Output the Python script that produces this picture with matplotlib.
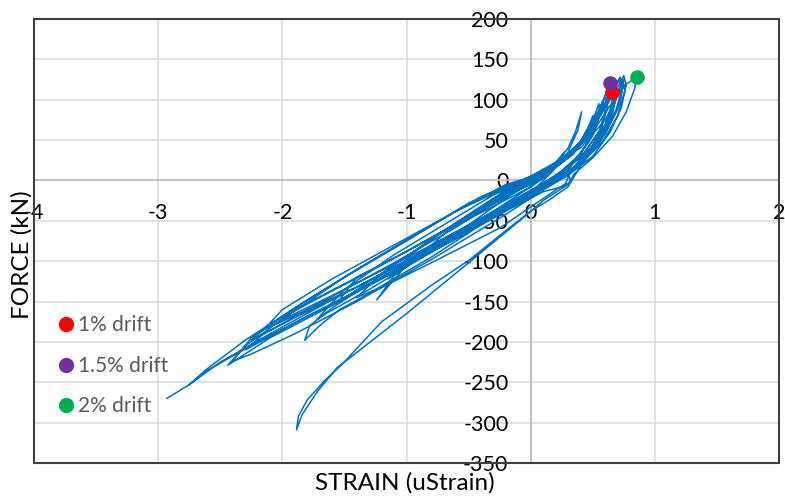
import matplotlib
matplotlib.use("Agg")
import matplotlib.pyplot as plt
from matplotlib.patches import Rectangle
from matplotlib.lines import Line2D

plt.rcParams['font.family'] = ['Lato', 'DejaVu Sans']
plt.rcParams['axes.unicode_minus'] = False

# strain / force record, cycle by cycle
strain = [
    0.0,
    # cycle 1
    0.08, 0.15, 0.12, 0.02, -0.1, -0.2, -0.3, -0.2, -0.08, 0.0,
    # cycle 2
    0.1, 0.2, 0.27, 0.25, 0.15, 0.0, -0.2, -0.4, -0.55, -0.45, -0.25, -0.05,
    # cycle 3
    0.1, 0.2, 0.3, 0.36, 0.41, 0.38, 0.3, 0.18, 0.05, -0.2, -0.5, -0.8, -0.65, -0.4, -0.15, 0.0,
    # cycle 3b
    0.15, 0.3, 0.4, 0.47, 0.5, 0.52, 0.47, 0.36, 0.22, 0.05, -0.3, -0.7, -1.05, -1.15,
    -0.95, -0.6, -0.3, -0.05,
    # cycle 4
    0.15, 0.3, 0.42, 0.5, 0.55, 0.56, 0.5, 0.38, 0.3, 0.32, 0.25, 0.1, -0.2, -0.6, -1.0, -1.24,
    -1.1, -0.8, -0.5, -0.2, 0.0,
    # cycle 4b
    0.18, 0.34, 0.45, 0.52, 0.5, 0.4, 0.25, 0.1, -0.3, -0.8, -1.25, -1.4,
    -1.2, -0.85, -0.45, -0.1, 0.05,
    # cycle 5
    0.2, 0.35, 0.48, 0.56, 0.6, 0.62, 0.57, 0.45, 0.3, 0.15, -0.1, -0.5, -0.9, -1.3, -1.56,
    -1.4, -1.0, -0.6, -0.25, 0.0,
    # cycle 5b
    0.2, 0.35, 0.46, 0.54, 0.58, 0.6, 0.55, 0.42, 0.26, 0.05, -0.4, -0.9, -1.3, -1.65, -1.72,
    -1.5, -1.1, -0.7, -0.3, 0.0,
    # cycle 6
    0.2, 0.38, 0.5, 0.6, 0.64, 0.66, 0.6, 0.48, 0.33, 0.28, 0.2, -0.25, -0.8, -1.3, -1.54, -1.7,
    -1.82, -1.78, -1.6, -1.3, -0.9, -0.5, -0.2, 0.0,
    # cycle 7
    0.2, 0.4, 0.55, 0.63, 0.66, 0.68, 0.62, 0.5, 0.36, 0.2, 0.0, -0.4, -0.9, -1.4, -1.8, -2.05,
    -1.9, -1.5, -1.0, -0.5, -0.15, 0.05,
    # cycle 7b
    0.22, 0.4, 0.53, 0.61, 0.66, 0.69, 0.65, 0.55, 0.4, 0.2, -0.3, -0.9, -1.5, -1.9, -2.15,
    -2.0, -1.6, -1.1, -0.6, -0.2, 0.05,
    # cycle 8
    0.2, 0.4, 0.52, 0.6, 0.63, 0.67, 0.64, 0.55, 0.4, 0.25, 0.0, -0.5, -1.0, -1.5, -1.9, -2.25,
    -2.1, -1.7, -1.2, -0.7, -0.3, 0.0,
    # cycle 9
    0.2, 0.42, 0.56, 0.66, 0.72, 0.74, 0.7, 0.6, 0.46, 0.3, 0.1, -0.4, -1.0, -1.6, -2.1, -2.44,
    -2.3, -2.0, -1.5, -1.0, -0.5, -0.15, 0.05,
    # cycle 9b
    0.25, 0.45, 0.58, 0.67, 0.71, 0.73, 0.68, 0.57, 0.42, 0.22, -0.2, -0.8, -1.4, -1.9, -2.25, -2.4,
    -2.25, -1.9, -1.4, -0.9, -0.4, 0.0,
    # cycle 10
    0.25, 0.45, 0.6, 0.7, 0.75, 0.77, 0.73, 0.64, 0.5, 0.3, 0.0, -0.6, -1.2, -1.8, -2.3,
    -2.15, -1.7, -1.1, -0.6, -0.2, 0.05,
    # cycle 11 (deep excursion)
    0.3, 0.5, 0.65, 0.76, 0.85, 0.84, 0.77, 0.66, 0.5, 0.35, 0.3, 0.1, -0.05, -0.5, -1.0, -1.5,
    -1.56, -1.72, -1.84, -1.886, -1.87, -1.8, -1.66, -1.52, -1.2, -0.8, -0.49, -0.2, 0.0, 0.15, 0.3,
    # cycle 12
    0.45, 0.6, 0.7, 0.74, 0.76, 0.7, 0.58, 0.4, 0.2, -0.3, -1.0, -1.6, -2.1, -2.5, -2.75,
    -2.62, -2.3, -1.8, -1.2, -0.6, 0.0,
    # final cycle
    0.4, 0.6, 0.7, 0.75, 0.72, 0.5, 0.2, -0.5, -1.5, -2.2, -2.6, -2.75, -2.93,
]
force = [
    0.0,
    6, 14, 8, -4, -12, -20, -28, -16, -6, 2,
    10, 22, 35, 24, 8, -8, -24, -40, -52, -38, -20, -2,
    12, 20, 40, 60, 85, 62, 35, 12, -8, -30, -55, -80, -60, -38, -14, 0,
    12, 28, 48, 68, 80, 70, 48, 25, 8, -8, -38, -75, -112, -122,
    -90, -52, -22, 2,
    14, 30, 52, 75, 95, 82, 55, 30, 12, -2, -8, -14, -38, -72, -105, -148,
    -118, -85, -55, -22, -2,
    14, 32, 55, 75, 58, 33, 12, -4, -45, -95, -135, -145,
    -115, -78, -38, -4, 3,
    18, 38, 62, 85, 105, 92, 65, 38, 15, 0, -22, -58, -92, -125, -152,
    -120, -88, -55, -25, -4,
    16, 35, 58, 80, 98, 85, 60, 32, 10, -12, -52, -98, -135, -165, -172,
    -135, -92, -55, -18, 2,
    16, 40, 66, 92, 112, 96, 68, 40, 14, -4, -12, -59, -102, -140, -160, -180,
    -198, -180, -158, -128, -95, -60, -28, -8,
    18, 45, 78, 100, 110, 98, 70, 42, 18, 2, -15, -50, -90, -132, -160, -178,
    -160, -128, -88, -45, -12, 2,
    20, 45, 75, 100, 118, 104, 76, 46, 20, 0, -40, -88, -135, -165, -185,
    -160, -122, -80, -38, -5, 6,
    20, 48, 78, 105, 121, 108, 80, 50, 22, 5, -18, -60, -100, -140, -170, -198,
    -178, -145, -105, -62, -25, 0,
    18, 50, 82, 110, 128, 115, 88, 58, 30, 8, -10, -55, -105, -155, -195, -229,
    -205, -172, -120, -75, -28, -5, 8,
    22, 52, 85, 110, 125, 112, 82, 50, 22, 0, -42, -98, -150, -190, -215, -224,
    -195, -158, -110, -65, -20, 5,
    25, 55, 90, 115, 130, 118, 90, 60, 30, 6, -20, -72, -122, -168, -210,
    -190, -152, -102, -58, -18, 6,
    28, 60, 95, 118, 128, 115, 85, 55, 28, 8, -5, -25, -45, -102, -165, -225,
    -232, -262, -290, -309, -292, -272, -248, -228, -175, -130, -98, -62, -38, -24, -8,
    30, 70, 105, 125, 112, 80, 48, 20, 0, -40, -100, -148, -190, -225, -253,
    -235, -198, -148, -92, -38, 5,
    40, 75, 105, 125, 95, 40, 5, -60, -145, -200, -235, -253, -270,
]

# drift level points
drift_labels = ['1% drift', '1.5% drift', '2% drift']
drift_strain = [0.655, 0.636, 0.856]
drift_force = [110, 121, 128]
drift_colors = ['#FF0000', '#7030A0', '#00B050']

fig = plt.figure(figsize=(7.85, 5.0), dpi=100)
ax = fig.add_axes([34 / 785, 37 / 500, 745 / 785, 444 / 500])

ax.plot(strain, force, color='#0070C0', lw=1.1, zorder=3)
for s, f, c in zip(drift_strain, drift_force, drift_colors):
    ax.plot(s, f, 'o', color=c, ms=10.5, mec='none', zorder=4)

ax.set_xlim(-4, 2)
ax.set_ylim(-350, 200)
ax.set_xticks(range(-4, 3))
ax.set_yticks(range(-350, 201, 50))
ax.grid(True, color='#d9d9d9', lw=1.1)
ax.set_axisbelow(True)

# axes cross at the origin
for side in ['top', 'right']:
    ax.spines[side].set_visible(False)
ax.spines['left'].set_position(('data', 0))
ax.spines['bottom'].set_position(('data', 0))
for side in ['left', 'bottom']:
    ax.spines[side].set_color('#bfbfbf')
    ax.spines[side].set_linewidth(1.3)
    ax.spines[side].set_zorder(1)
ax.tick_params(axis='both', length=0, labelsize=15.5, labelcolor='black')
ax.tick_params(axis='x', pad=16.5)
ax.tick_params(axis='y', pad=16)

# outer frame
ax.add_patch(Rectangle((0, 0), 1, 1, transform=ax.transAxes, fill=False,
                       ec='#404040', lw=1.5, clip_on=False, zorder=5))

handles = [Line2D([], [], ls='none', marker='o', color=c, ms=11, mec='none')
           for c in drift_colors]
ax.legend(handles, drift_labels, loc='upper left', bbox_to_anchor=(43 / 785, 1 - 305 / 500),
          bbox_transform=fig.transFigure, frameon=False, fontsize=15, labelcolor='#595959',
          handletextpad=0.0, handlelength=1.2, labelspacing=0.98, borderpad=0)

fig.text(405 / 785, 1 - 483 / 500, 'STRAIN (uStrain)', ha='center', va='center', fontsize=17.5)
fig.text(22 / 785, 1 - 255 / 500, 'FORCE (kN)', ha='center', va='center', rotation=90,
         fontsize=17.5)

fig.savefig('out.png', dpi=100)
